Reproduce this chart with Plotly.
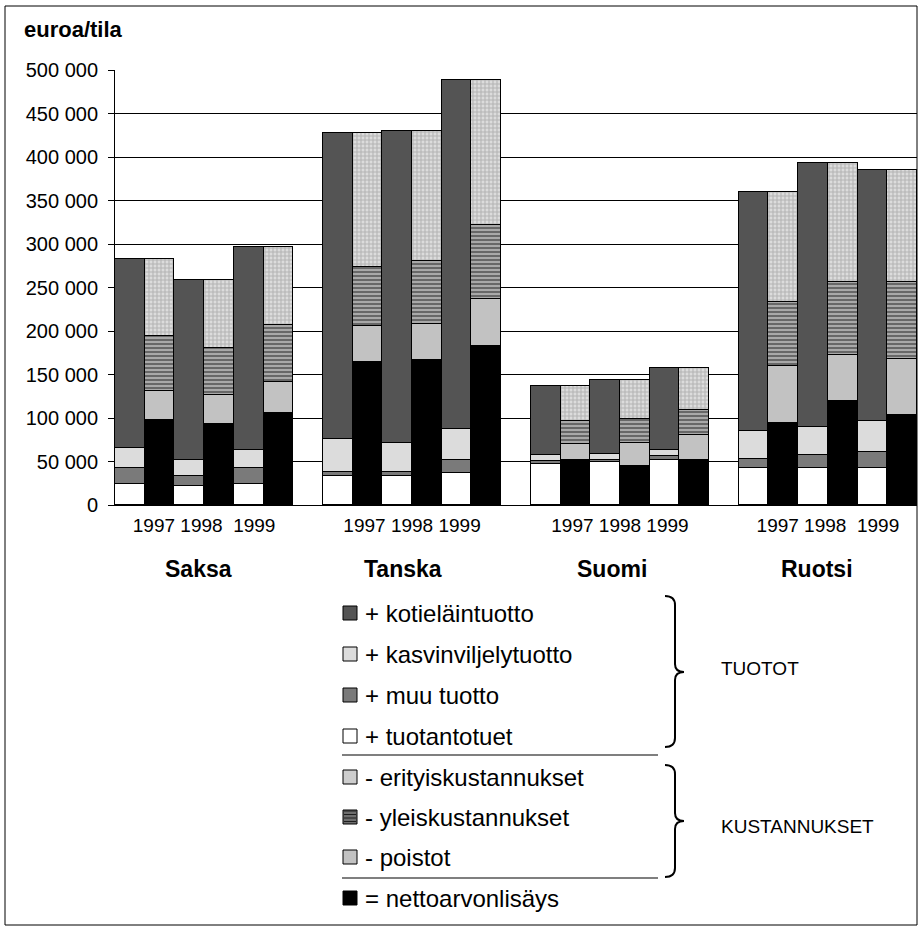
import plotly.graph_objects as go

# Farm economy per holding, euros
countries = ["Saksa", "Tanska", "Suomi", "Ruotsi"]
years = ["1997", "1998", "1999"]
year_labels = ["1997 1998\u00a0 1999", "1997 1998 1999", "1997 1998 1999", "1997 1998\u00a0 1999"]

# Revenue side (order: Saksa 97-99, Tanska 97-99, Suomi 97-99, Ruotsi 97-99)
tuotantotuet = [24400, 22400, 24400, 33200, 33200, 37000, 47400, 49200, 51200, 42300, 42300, 42300]
muu_tuotto = [18400, 10800, 18400, 4500, 4500, 14200, 3000, 2000, 5400, 10800, 15400, 18400]
kasvinviljelytuotto = [22500, 18000, 19900, 38400, 33800, 36400, 7300, 6900, 6100, 31800, 31800, 35300]
kotielaintuotto = [217900, 207800, 233800, 351600, 358500, 400700, 79400, 85900, 95100, 274900, 304100, 288700]

# Cost side
nettoarvonlisays = [97200, 92600, 106000, 164300, 166200, 182700, 52000, 45400, 51200, 94100, 119400, 103700]
poistot = [33300, 33400, 35300, 41400, 42200, 53700, 17600, 26100, 29500, 65200, 53300, 64500]
yleiskustannukset = [63300, 54800, 65200, 67800, 71600, 85100, 26800, 27600, 28000, 74000, 83600, 88100]
erityiskustannukset = [89400, 78200, 90000, 154200, 150000, 166800, 40700, 44900, 49100, 126500, 137300, 128400]

y_ticks = list(range(0, 500001, 50000))

FONT = "Liberation Sans, Arial, sans-serif"

# slot positions: each country has 6 bars (revenue/cost pairs) and one empty slot after it
rev_x, cost_x = [], []
for c in range(len(countries)):
    for y in range(len(years)):
        rev_x.append(c * 7 + 2 * y)
        cost_x.append(c * 7 + 2 * y + 1)
group_centers = [c * 7 + 2.5 for c in range(len(countries))]

outline = dict(color="black", width=1)
fig = go.Figure()


def add_bar(x, vals, name, color, pattern=None):
    marker = dict(color=color, line=outline)
    if pattern:
        marker["pattern"] = pattern
    fig.add_trace(go.Bar(x=x, y=vals, name=name, width=1, marker=marker,
                         showlegend=False, hoverinfo="name+y"))


add_bar(rev_x, tuotantotuet, "+ tuotantotuet", "#ffffff")
add_bar(rev_x, muu_tuotto, "+ muu tuotto", "#7a7a7a")
add_bar(rev_x, kasvinviljelytuotto, "+ kasvinviljelytuotto", "#dcdcdc")
add_bar(rev_x, kotielaintuotto, "+ kotieläintuotto", "#545454")

add_bar(cost_x, nettoarvonlisays, "= nettoarvonlisäys", "#000000")
add_bar(cost_x, poistot, "- poistot", "#c2c2c2")
add_bar(cost_x, yleiskustannukset, "- yleiskustannukset", "#a8a8a8",
        dict(shape="-", fgcolor="#262626", bgcolor="#a8a8a8", size=4, solidity=0.5))
add_bar(cost_x, erityiskustannukset, "- erityiskustannukset", "#dadada",
        dict(shape="+", fgcolor="#8a8a8a", bgcolor="#dcdcdc", size=4, solidity=0.45))

# plot area in pixels
PL, PR, PT, PB = 115, 917, 70, 505


def fx(px):
    return (px - PL) / (PR - PL)


def fy(py):
    return (PB - py) / (PB - PT)


shapes = []
annotations = []

# outer frame
shapes.append(dict(type="rect", xref="paper", yref="paper", x0=fx(5), x1=fx(917),
                   y0=fy(6), y1=fy(925), line=dict(color="black", width=1)))

# axis title
annotations.append(dict(text="<b>euroa/tila</b>", xref="paper", yref="paper", x=fx(22), y=fy(30),
                        xanchor="left", yanchor="middle", showarrow=False,
                        font=dict(family=FONT, size=22, color="black")))

# country names under the year labels
name_px = [198, 403, 612, 817]
for name, px in zip(countries, name_px):
    annotations.append(dict(text=f"<b>{name}</b>", xref="paper", yref="paper", x=fx(px), y=fy(569),
                            xanchor="center", yanchor="middle", showarrow=False,
                            font=dict(family=FONT, size=23, color="black")))

# legend
legend_rows = [
    ("+ kotieläintuotto", "#545454", 613),
    ("+ kasvinviljelytuotto", "#dcdcdc", 654),
    ("+ muu tuotto", "#7a7a7a", 695),
    ("+ tuotantotuet", "#ffffff", 736),
    ("- erityiskustannukset", "#cdcdcd", 777),
    ("- yleiskustannukset", "#6e6e6e", 817),
    ("- poistot", "#c2c2c2", 857),
    ("= nettoarvonlisäys", "#000000", 898),
]
for label, color, cy in legend_rows:
    shapes.append(dict(type="rect", xref="paper", yref="paper", x0=fx(343), x1=fx(357),
                       y0=fy(cy + 7), y1=fy(cy - 7), fillcolor=color,
                       line=dict(color="black", width=1)))
    annotations.append(dict(text=label, xref="paper", yref="paper", x=fx(363), y=fy(cy),
                            xanchor="left", yanchor="middle", showarrow=False,
                            font=dict(family=FONT, size=24, color="black")))

# stripes on the overhead-cost swatch
for k in range(4):
    yy = 811 + k * 3.5
    shapes.append(dict(type="line", xref="paper", yref="paper", x0=fx(344), x1=fx(356),
                       y0=fy(yy), y1=fy(yy), line=dict(color="#1e1e1e", width=1)))

# separator lines
for sy in (755, 878):
    shapes.append(dict(type="line", xref="paper", yref="paper", x0=fx(342), x1=fx(658),
                       y0=fy(sy), y1=fy(sy), line=dict(color="#555555", width=1.5)))


def brace_path(x0, top, mid, bot, stem=675, tip=684):
    pts = [
        ("M", [(x0, top)]),
        ("Q", [(stem, top), (stem, top + 9)]),
        ("L", [(stem, mid - 8)]),
        ("Q", [(stem, mid), (tip, mid)]),
        ("Q", [(stem, mid), (stem, mid + 8)]),
        ("L", [(stem, bot - 9)]),
        ("Q", [(stem, bot), (x0, bot)]),
    ]
    out = []
    for cmd, ps in pts:
        out.append(cmd + " " + " ".join(f"{fx(a):.5f},{fy(b):.5f}" for a, b in ps))
    return " ".join(out)


for top, mid, bot in ((596, 672, 747), (765, 821, 877)):
    shapes.append(dict(type="path", xref="paper", yref="paper", path=brace_path(665, top, mid, bot),
                       line=dict(color="black", width=2)))

for text, cy in (("TUOTOT", 668), ("KUSTANNUKSET", 826)):
    annotations.append(dict(text=text, xref="paper", yref="paper", x=fx(719), y=fy(cy),
                            xanchor="left", yanchor="middle", showarrow=False,
                            font=dict(family=FONT, size=19, color="black")))

fig.update_layout(
    barmode="stack",
    bargap=0,
    width=924,
    height=930,
    autosize=False,
    margin=dict(l=PL, r=924 - PR, t=PT, b=930 - PB, pad=0),
    plot_bgcolor="white",
    paper_bgcolor="white",
    separators=", ",
    font=dict(family=FONT, color="black"),
    shapes=shapes,
    annotations=annotations,
    showlegend=False,
)
fig.update_xaxes(
    range=[-0.5, 26.5],
    tickvals=group_centers,
    ticktext=year_labels,
    ticks="",
    showgrid=False,
    zeroline=False,
    showline=True,
    linecolor="black",
    linewidth=1,
    tickfont=dict(family=FONT, size=19, color="black"),
    ticklabelstandoff=3,
)
fig.update_yaxes(
    range=[0, 500000],
    tickvals=y_ticks,
    tickformat=",d",
    ticks="outside",
    ticklen=6,
    tickcolor="black",
    showgrid=True,
    gridcolor="black",
    gridwidth=1,
    zeroline=False,
    showline=True,
    linecolor="black",
    linewidth=1,
    tickfont=dict(family=FONT, size=20, color="black"),
    ticklabelstandoff=6,
)

fig.write_html("out.html")
